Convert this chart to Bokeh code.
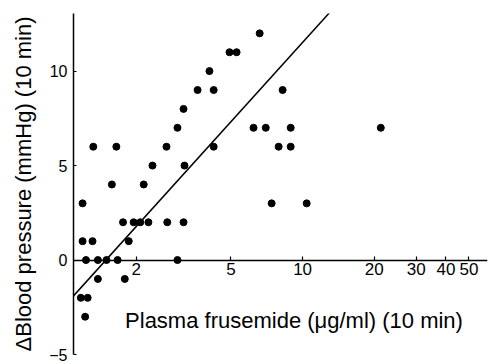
import numpy as np
from bokeh.plotting import figure
from bokeh.models import FixedTicker, Range1d, Label, BasicTickFormatter
from bokeh.embed import file_html
from bokeh.resources import INLINE

# Plasma frusemide (ug/ml) and change in blood pressure (mmHg)
frusemide = [1.22, 1.17, 1.25, 1.38, 1.79,
             1.23, 1.38, 1.50, 1.67, 2.98,
             1.19, 1.31, 1.86,
             1.76, 1.95, 2.08, 2.25, 2.70, 3.16,
             1.19, 7.41, 10.4,
             1.58, 2.15,
             2.34, 3.19,
             1.32, 1.65, 2.68, 4.23, 7.93, 8.91,
             2.98, 6.22, 7.00, 8.91, 21.3,
             3.16,
             3.62, 4.23, 8.24,
             4.06,
             4.93, 5.28,
             6.60]
delta_bp = [-3, -2, -2, -1, -1,
            0, 0, 0, 0, 0,
            1, 1, 1,
            2, 2, 2, 2, 2, 2,
            3, 3, 3,
            4, 4,
            5, 5,
            6, 6, 6, 6, 6, 6,
            7, 7, 7, 7, 7,
            8,
            9, 9, 9,
            10,
            11, 11,
            12]

# regression line: dBP = intercept + slope * log10(frusemide)
fit_intercept = -2.42
fit_slope = 13.94
fit_x = [1.09, 13.0]

x_ticks = [2, 5, 10, 20, 30, 40, 50]
y_ticks = [-5, 0, 5, 10]

FONT = "Liberation Sans"

p = figure(width=489, height=364, x_axis_type="log",
           x_range=Range1d(1.09, 59.8), y_range=Range1d(-5, 13.05),
           output_backend="svg", toolbar_location=None,
           min_border_left=73, min_border_right=2,
           min_border_top=13, min_border_bottom=10)
p.outline_line_color = None
p.xgrid.visible = False
p.ygrid.visible = False
p.background_fill_color = "white"
p.border_fill_color = "white"

fx = np.array(fit_x)
fy = fit_intercept + fit_slope * np.log10(fx)
p.line(fx, fy, line_color="black", line_width=1.5)
p.scatter(frusemide, delta_bp, size=7, color="black")

xa = p.xaxis[0]
xa.fixed_location = 0
xa.ticker = FixedTicker(ticks=x_ticks)
xa.formatter = BasicTickFormatter()
xa.minor_tick_line_color = None
xa.major_tick_in = 4
xa.major_tick_out = 0
xa.axis_line_width = 1.5
xa.major_tick_line_width = 1.2
xa.major_label_text_font = FONT
xa.major_label_text_font_size = "17px"
xa.major_label_text_color = "black"
xa.major_label_standoff = 3

ya = p.yaxis[0]
ya.ticker = FixedTicker(ticks=y_ticks)
ya.major_label_overrides = {-5: "\u22125"}
ya.minor_tick_line_color = None
ya.major_tick_in = 3
ya.major_tick_out = 0
ya.axis_line_width = 1.5
ya.major_label_text_font = FONT
ya.major_label_text_font_size = "16px"
ya.major_label_text_color = "black"
ya.major_label_standoff = 6
ya.axis_label = "\u0394Blood pressure (mmHg) (10 min)"
ya.axis_label_text_font = FONT
ya.axis_label_text_font_size = "22px"
ya.axis_label_text_font_style = "normal"
ya.axis_label_text_color = "black"
ya.axis_label_standoff = 10

xlab = Label(x=9.2, y=-3.2, text="Plasma frusemide (\u03bcg/ml) (10 min)",
             text_font=FONT, text_font_size="22px", text_color="black",
             text_align="center", text_baseline="middle")
p.add_layout(xlab)

open("out.html", "w").write(file_html(p, INLINE))
